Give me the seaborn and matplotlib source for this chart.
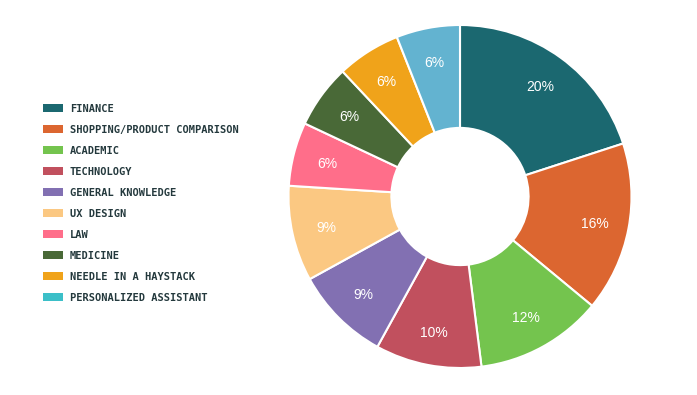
import matplotlib
matplotlib.use("Agg")
import matplotlib.pyplot as plt
import matplotlib.patches as mpatches
import seaborn as sns

categories = ["FINANCE", "SHOPPING/PRODUCT COMPARISON", "ACADEMIC", "TECHNOLOGY",
              "GENERAL KNOWLEDGE", "UX DESIGN", "LAW", "MEDICINE",
              "NEEDLE IN A HAYSTACK", "PERSONALIZED ASSISTANT"]
values = [20, 16, 12, 10, 9, 9, 6, 6, 6, 6]
slice_colors = ["#1B6870", "#DC6630", "#74C44E", "#C1505E", "#8270B2",
                "#FBC882", "#FF6E8A", "#496937", "#F0A31A", "#63B3D0"]
legend_colors = ["#1B6870", "#DC6630", "#74C44E", "#C1505E", "#8270B2",
                 "#FBC882", "#FF6E8A", "#496937", "#F0A31A", "#3BBFC8"]

sns.set_theme(style="white")
plt.rcParams['font.family'] = ['Liberation Sans', 'DejaVu Sans']

fig = plt.figure(figsize=(6.97, 3.95), dpi=100)
W, H = 697, 395
cx, cy, r = 460, 196.5, 171.5
ax = fig.add_axes([(cx - r) / W, (H - cy - r) / H, 2 * r / W, 2 * r / H])

wedges, texts, autotexts = ax.pie(
    values, colors=slice_colors, startangle=90, counterclock=False,
    autopct=lambda p: f"{p:.0f}%", pctdistance=0.8, radius=1.0,
    wedgeprops=dict(width=0.6, edgecolor="white", linewidth=1.5),
    textprops=dict(color="white", fontsize=10))
for t in autotexts:
    t.set_va("center_baseline")
ax.set_xlim(-1, 1)
ax.set_ylim(-1, 1)
ax.set_aspect("equal")
ax.axis("off")

handles = [mpatches.Patch(facecolor=c, edgecolor="none") for c in legend_colors]
leg = fig.legend(handles, categories, loc="upper left",
                 bbox_to_anchor=(43 / W, 1 - 103.5 / H), frameon=False,
                 prop=dict(family="DejaVu Sans Mono", size=7.5, weight="semibold"),
                 handlelength=1.92, handleheight=0.85, handletextpad=0.65,
                 labelspacing=1.06, borderaxespad=0, borderpad=0)
for t in leg.get_texts():
    t.set_color("#24393D")

fig.savefig("out.png", dpi=100)
